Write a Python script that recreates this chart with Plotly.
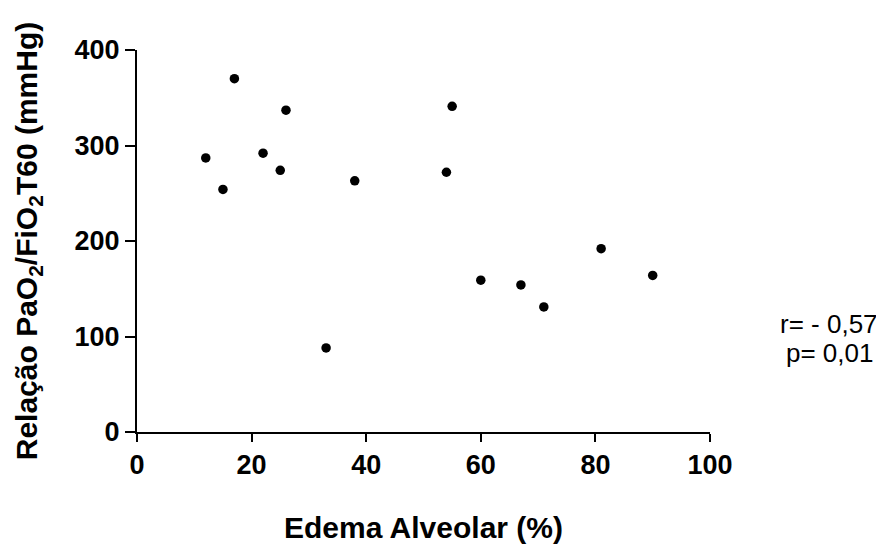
import plotly.graph_objects as go

edema = [12, 15, 17, 22, 25, 26, 33, 38, 54, 55, 60, 67, 71, 81, 90]
relacao = [287, 254, 370, 292, 274, 337, 88, 263, 272, 341, 159, 154, 131, 192, 164]

x_ticks = [0, 20, 40, 60, 80, 100]
y_ticks = [0, 100, 200, 300, 400]
stats_lines = ["r= - 0,57", "p= 0,01"]

FONT = "Liberation Sans, Arial, sans-serif"

fig = go.Figure()
fig.add_trace(go.Scatter(
    x=edema, y=relacao, mode="markers",
    marker=dict(color="black", size=9.5),
    showlegend=False, cliponaxis=False,
))

axis_common = dict(
    showgrid=False, zeroline=False, showline=True, linecolor="black", linewidth=2,
    ticks="outside", tickwidth=2, tickcolor="black",
    tickfont=dict(family=FONT, size=27, color="black"),
    automargin=False,
)

fig.update_layout(
    width=884, height=546,
    margin=dict(l=129, r=182, t=42, b=122),
    plot_bgcolor="white", paper_bgcolor="white",
    xaxis=dict(range=[0, 100], tickvals=x_ticks, ticklen=8,
               ticktext=[f"<b>{v}</b>" for v in x_ticks], **axis_common,
               title=dict(text="<b>Edema Alveolar (%)</b>", standoff=38,
                          font=dict(family=FONT, size=30, color="black"))),
    yaxis=dict(range=[0, 400], tickvals=y_ticks, ticklen=10,
               ticktext=[f"<b>{v}</b>" for v in y_ticks], **axis_common,
               title=dict(text="<b>Relação PaO<sub>2</sub>/FiO<sub>2</sub>T60 (mmHg)</b>", standoff=28,
                          font=dict(family=FONT, size=30, color="black"))),
    annotations=[
        dict(text=stats_lines[0], xref="paper", yref="paper",
             x=1.208, y=0.283, xanchor="center", yanchor="middle",
             showarrow=False, font=dict(family=FONT, size=26, color="black")),
        dict(text=stats_lines[1], xref="paper", yref="paper",
             x=1.208, y=0.207, xanchor="center", yanchor="middle",
             showarrow=False, font=dict(family=FONT, size=26, color="black")),
    ],
)

fig.write_html("out.html")
